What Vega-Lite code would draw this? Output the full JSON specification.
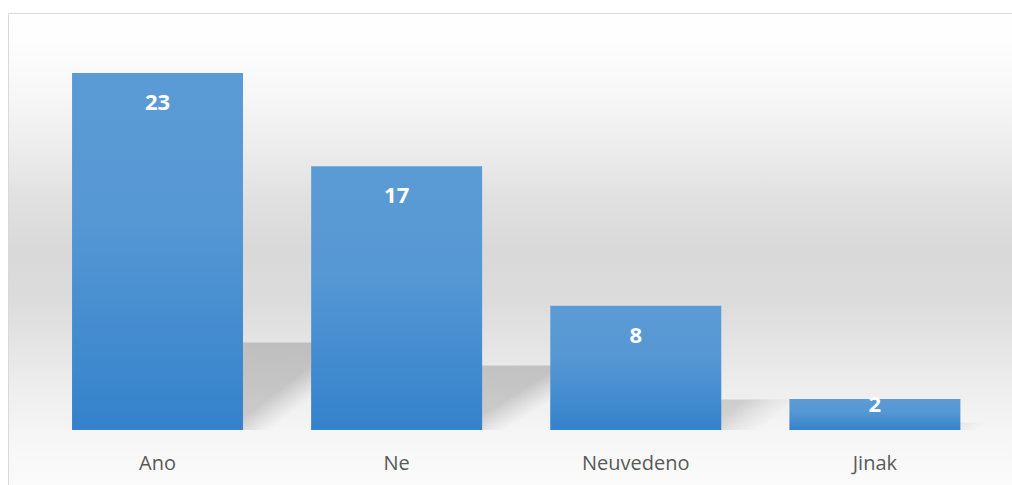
{
  "$schema": "https://vega.github.io/schema/vega-lite/v6.json",
  "width": 1005,
  "height": 473,
  "autosize": {"type": "none"},
  "padding": {"left": 8, "top": 13, "right": 0, "bottom": 0},
  "background": "white",
  "view": {
    "stroke": "#d9d9d9",
    "strokeWidth": 1,
    "fill": {
      "gradient": "linear", "x1": 0, "y1": 0, "x2": 0, "y2": 1,
      "stops": [
        {"offset": 0, "color": "#ffffff"},
        {"offset": 0.06, "color": "#fdfdfd"},
        {"offset": 0.185, "color": "#f6f6f6"},
        {"offset": 0.29, "color": "#ececec"},
        {"offset": 0.395, "color": "#e0e0e0"},
        {"offset": 0.5, "color": "#d9d9d9"},
        {"offset": 0.61, "color": "#dcdcdc"},
        {"offset": 0.715, "color": "#e6e6e6"},
        {"offset": 0.82, "color": "#f0f0f0"},
        {"offset": 0.88, "color": "#f5f5f5"},
        {"offset": 1, "color": "#fbfbfb"}
      ]
    }
  },
  "data": {
    "values": [
      {"kategorie": "Ano", "pocet": 23},
      {"kategorie": "Ne", "pocet": 17},
      {"kategorie": "Neuvedeno", "pocet": 8},
      {"kategorie": "Jinak", "pocet": 2}
    ]
  },
  "encoding": {
    "x": {
      "field": "kategorie", "type": "nominal", "sort": null,
      "scale": {"paddingInner": 0.285, "paddingOuter": 0.2439, "align": 0.549},
      "axis": {
        "title": null, "domain": false, "ticks": false, "grid": false, "offset": -55,
        "labelAngle": 0, "labelFont": "Open Sans", "labelFontSize": 20,
        "labelColor": "#595959", "labelBaseline": "alphabetic", "labelPadding": 38
      }
    },
    "y": {
      "field": "pocet", "type": "quantitative",
      "scale": {"domain": [-3.608, 26.869], "nice": false, "zero": false},
      "axis": null
    }
  },
  "layer": [
    {
      "encoding": {
        "y": {
          "field": "pocet", "type": "quantitative",
          "scale": {"domain": [-14.73, 109.7], "nice": false, "zero": false},
          "axis": null
        },
        "y2": {"datum": 0}
      },
      "layer": [
        {
          "transform": [{"filter": "datum.kategorie === 'Ano'"}],
          "mark": {
            "type": "bar", "width": 312, "xOffset": 70.5,
            "color": {
              "gradient": "linear", "x1": 0, "y1": 0, "x2": 0.8827, "y2": 0.3218,
              "stops": [
                {"offset": 0, "color": "rgba(0,0,0,0.16)"},
                {"offset": 0.86, "color": "rgba(0,0,0,0.17)"},
                {"offset": 0.93, "color": "rgba(0,0,0,0.08)"},
                {"offset": 1, "color": "rgba(0,0,0,0)"}
              ]
            }
          }
        },
        {
          "transform": [{"filter": "datum.kategorie === 'Ne'"}],
          "mark": {
            "type": "bar", "width": 297, "xOffset": 63,
            "color": {
              "gradient": "linear", "x1": 0, "y1": 0, "x2": 0.8917, "y2": 0.3108,
              "stops": [
                {"offset": 0, "color": "rgba(0,0,0,0.16)"},
                {"offset": 0.84, "color": "rgba(0,0,0,0.17)"},
                {"offset": 0.92, "color": "rgba(0,0,0,0.08)"},
                {"offset": 1, "color": "rgba(0,0,0,0)"}
              ]
            }
          }
        },
        {
          "transform": [{"filter": "datum.kategorie === 'Neuvedeno'"}],
          "mark": {
            "type": "bar", "width": 249, "xOffset": 39,
            "color": {
              "gradient": "linear", "x1": 0, "y1": 0, "x2": 0.9754, "y2": 0.1548,
              "stops": [
                {"offset": 0, "color": "rgba(0,0,0,0.15)"},
                {"offset": 0.78, "color": "rgba(0,0,0,0.14)"},
                {"offset": 0.89, "color": "rgba(0,0,0,0.06)"},
                {"offset": 1, "color": "rgba(0,0,0,0)"}
              ]
            }
          }
        },
        {
          "transform": [{"filter": "datum.kategorie === 'Jinak'"}],
          "mark": {
            "type": "bar", "width": 200, "xOffset": 14.5,
            "color": {
              "gradient": "linear", "x1": 0, "y1": 0, "x2": 0.9971, "y2": 0.0536,
              "stops": [
                {"offset": 0, "color": "rgba(0,0,0,0.07)"},
                {"offset": 0.85, "color": "rgba(0,0,0,0.06)"},
                {"offset": 1, "color": "rgba(0,0,0,0)"}
              ]
            }
          }
        }
      ]
    },
    {
      "mark": {
        "type": "bar",
        "color": {
          "gradient": "linear", "x1": 0, "y1": 0, "x2": 0, "y2": 1,
          "stops": [
            {"offset": 0, "color": "#5b9bd5"},
            {"offset": 0.4, "color": "#5698d4"},
            {"offset": 1, "color": "#3482cc"}
          ]
        }
      },
      "encoding": {"y2": {"datum": 0}}
    },
    {
      "transform": [{"filter": "datum.pocet >= 3"}],
      "mark": {"type": "text", "font": "Open Sans", "fontWeight": "bold", "fontSize": 22, "color": "white", "baseline": "middle", "dy": 30},
      "encoding": {"text": {"field": "pocet", "type": "quantitative"}}
    },
    {
      "transform": [{"filter": "datum.pocet < 3"}],
      "mark": {"type": "text", "font": "Open Sans", "fontWeight": "bold", "fontSize": 22, "color": "white", "baseline": "middle", "dy": 6},
      "encoding": {"text": {"field": "pocet", "type": "quantitative"}}
    }
  ],
  "resolve": {"scale": {"y": "independent"}}
}
